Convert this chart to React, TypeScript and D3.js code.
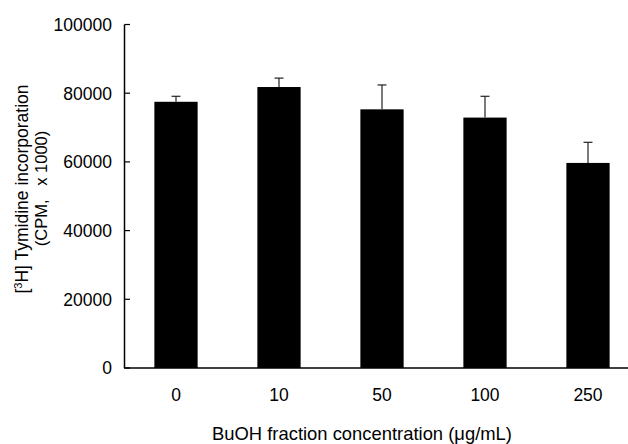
import React from "react";
import * as d3 from "d3";

const categories = ["0", "10", "50", "100", "250"];
const means = [77500, 81800, 75300, 72900, 59700];
const errors = [1600, 2600, 7100, 6200, 6000];
const yTicks = [0, 20000, 40000, 60000, 80000, 100000];

const W = 628;
const H = 444;
const FONT = "'Liberation Sans', Arial, sans-serif";

export default function App() {
  const x = d3
    .scaleBand<string>()
    .domain(categories)
    .range([124.5, 639.5])
    .paddingInner(0.58)
    .paddingOuter(0.29);
  const y = d3.scaleLinear().domain([0, 100000]).range([368, 24.5]);

  return (
    <svg
      width={W}
      height={H}
      style={{ position: "absolute", left: 0, top: 0, background: "#fff" }}
      fontFamily={FONT}
    >
      <rect width={W} height={H} fill="#fff" />
      {categories.map((c, i) => (
        <rect
          key={c}
          x={x(c)}
          y={y(means[i])}
          width={x.bandwidth()}
          height={y(0) - y(means[i])}
          fill="#000"
        />
      ))}
      {categories.map((c, i) => {
        const cx = (x(c) as number) + x.bandwidth() / 2;
        const top = y(means[i] + errors[i]);
        return (
          <g key={"e" + c} stroke="#222" strokeWidth={1.2}>
            <line x1={cx} x2={cx} y1={y(means[i])} y2={top} />
            <line x1={cx - 4.5} x2={cx + 4.5} y1={top} y2={top} />
          </g>
        );
      })}
      <line x1={124.5} x2={124.5} y1={y(100000)} y2={y(0)} stroke="#000" strokeWidth={1.5} />
      <line x1={124} x2={W} y1={y(0)} y2={y(0)} stroke="#000" strokeWidth={1.5} />
      {yTicks.map((t) => (
        <g key={t}>
          <line x1={124.5} x2={130} y1={y(t)} y2={y(t)} stroke="#000" strokeWidth={1.2} />
          <text x={112} y={y(t)} dy="0.36em" textAnchor="end" fontSize={17.5} fill="#000">
            {t}
          </text>
        </g>
      ))}
      {categories.map((c) => (
        <text
          key={"xl" + c}
          x={(x(c) as number) + x.bandwidth() / 2}
          y={401}
          textAnchor="middle"
          fontSize={17.5}
          fill="#000"
        >
          {c}
        </text>
      ))}
      <text x={362} y={440} textAnchor="middle" fontSize={18.4} fill="#000">
        BuOH fraction concentration (μg/mL)
      </text>
      <text
        transform="translate(28,189) rotate(-90)"
        textAnchor="middle"
        fontSize={17.5}
        fill="#000"
      >
        [<tspan baselineShift="super" fontSize={11}>3</tspan>H] Tymidine incorporation
      </text>
      <text
        transform="translate(47,188.5) rotate(-90)"
        textAnchor="middle"
        fontSize={16.5}
        fill="#000"
        style={{ whiteSpace: "pre" }}
      >
        {"(CPM,   x 1000)"}
      </text>
    </svg>
  );
}
